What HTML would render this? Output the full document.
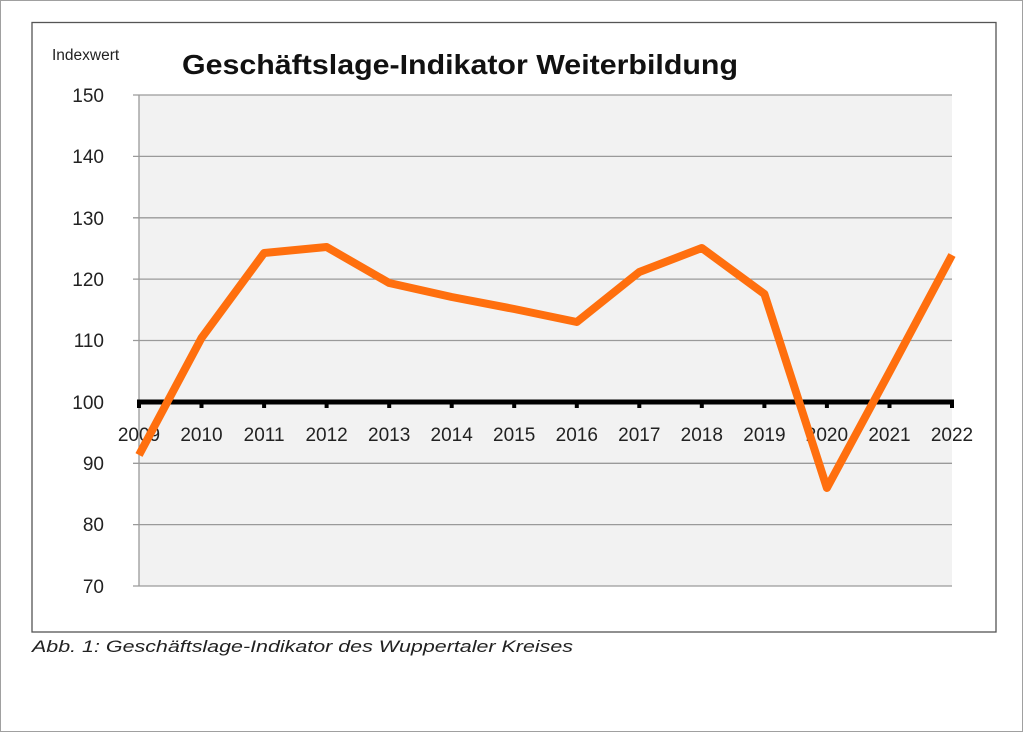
<!DOCTYPE html>
<html><head><meta charset="utf-8"><style>
html,body{margin:0;padding:0;background:#fff;width:1024px;height:733px;overflow:hidden}
</style></head><body>
<svg width="1024" height="733" xmlns="http://www.w3.org/2000/svg" font-family="Liberation Sans, sans-serif">
<rect x="0.5" y="0.5" width="1022" height="731" fill="#fff" stroke="#a0a0a0"/>
<rect x="32" y="22.5" width="964" height="609.5" fill="#fff" stroke="#555" stroke-width="1.3"/>
<rect x="139" y="95" width="813" height="491" fill="#f2f2f2"/>
<g stroke="#9a9a9a" stroke-width="1.3">
<line x1="133" y1="95" x2="952" y2="95"/>
<line x1="133" y1="156.4" x2="952" y2="156.4"/>
<line x1="133" y1="217.8" x2="952" y2="217.8"/>
<line x1="133" y1="279.1" x2="952" y2="279.1"/>
<line x1="133" y1="340.5" x2="952" y2="340.5"/>
<line x1="133" y1="463.3" x2="952" y2="463.3"/>
<line x1="133" y1="524.6" x2="952" y2="524.6"/>
<line x1="133" y1="586" x2="952" y2="586"/>
<line x1="139" y1="95" x2="139" y2="586"/>
</g>
<g font-size="19" fill="#222" text-anchor="end">
<text x="104" y="102">150</text><text x="104" y="163">140</text><text x="104" y="225">130</text>
<text x="104" y="286">120</text><text x="104" y="347">110</text><text x="104" y="409">100</text>
<text x="104" y="470">90</text><text x="104" y="531">80</text><text x="104" y="593">70</text>
</g>
<text x="52" y="60" font-size="15.5" fill="#222">Indexwert</text>
<text x="182" y="74" font-size="28" font-weight="bold" fill="#111" textLength="556" lengthAdjust="spacingAndGlyphs">Geschäftslage-Indikator Weiterbildung</text>
<line x1="137" y1="402" x2="954" y2="402" stroke="#000" stroke-width="5"/>
<g stroke="#000" stroke-width="4">
<line x1="139" y1="402" x2="139" y2="408"/><line x1="201.5" y1="402" x2="201.5" y2="408"/><line x1="264.1" y1="402" x2="264.1" y2="408"/><line x1="326.6" y1="402" x2="326.6" y2="408"/><line x1="389.2" y1="402" x2="389.2" y2="408"/><line x1="451.7" y1="402" x2="451.7" y2="408"/><line x1="514.2" y1="402" x2="514.2" y2="408"/><line x1="576.8" y1="402" x2="576.8" y2="408"/><line x1="639.3" y1="402" x2="639.3" y2="408"/><line x1="701.8" y1="402" x2="701.8" y2="408"/><line x1="764.4" y1="402" x2="764.4" y2="408"/><line x1="826.9" y1="402" x2="826.9" y2="408"/><line x1="889.5" y1="402" x2="889.5" y2="408"/><line x1="952" y1="402" x2="952" y2="408"/>
</g>
<g font-size="19" fill="#222" text-anchor="middle">
<text x="139" y="441">2009</text><text x="201.5" y="441">2010</text><text x="264.1" y="441">2011</text><text x="326.6" y="441">2012</text><text x="389.2" y="441">2013</text><text x="451.7" y="441">2014</text><text x="514.2" y="441">2015</text><text x="576.8" y="441">2016</text><text x="639.3" y="441">2017</text><text x="701.8" y="441">2018</text><text x="764.4" y="441">2019</text><text x="826.9" y="441">2020</text><text x="889.5" y="441">2021</text><text x="952" y="441">2022</text>
</g>
<polyline fill="none" stroke="#ff6f0e" stroke-width="8" stroke-linejoin="round" points="139,455 201.5,338 264.1,253 326.6,247 389.2,283 451.7,297 514.2,309 576.8,322 639.3,272 701.8,248 764.4,294 826.9,488 889.5,372 952,255"/>
<text x="32" y="652" font-size="17" font-style="italic" fill="#222" textLength="541" lengthAdjust="spacingAndGlyphs">Abb. 1: Geschäftslage-Indikator des Wuppertaler Kreises</text>
</svg>
</body></html>
